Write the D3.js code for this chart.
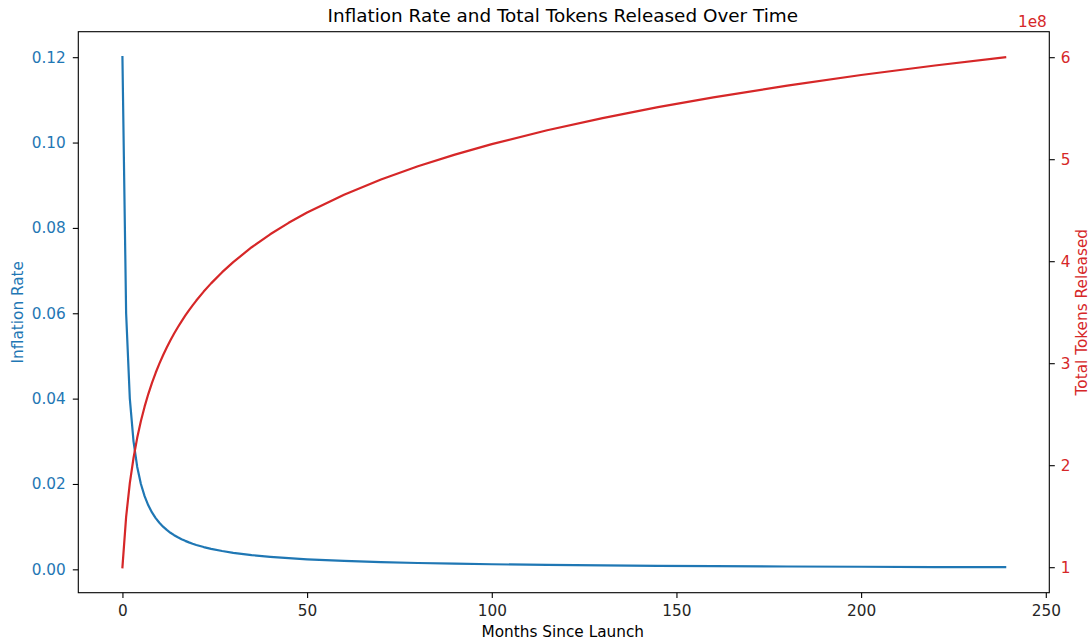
<!DOCTYPE html>
<html>
<head>
<meta charset="utf-8">
<script src="https://cdn.jsdelivr.net/npm/d3@7"></script>
<style>
  html, body { margin: 0; padding: 0; background: #fff; }
  svg { display: block; font-family: "DejaVu Sans", sans-serif; }
</style>
</head>
<body>
<svg id="chart" width="1092" height="643"></svg>
<script>
// Months since launch (sampled)
const months = [0,1,2,3,4,5,6,7,8,9,10,11,12,13,14,15,16,17,18,19,20,22,24,27,30,35,40,45,50,60,70,80,90,100,115,130,145,160,180,200,220,239];
// Inflation rate (left axis)
const inflationRate = [0.12,0.06,0.04,0.03,0.024,0.02,0.01714,0.015,0.01333,0.012,0.01091,0.01,0.00923,0.00857,0.008,0.0075,0.00706,0.00667,0.00632,0.006,0.00571,0.00522,0.0048,0.00429,0.00387,0.00333,0.00293,0.00261,0.00235,0.00197,0.00169,0.00148,0.00132,0.00119,0.00103,0.00092,0.00082,0.00075,0.00066,0.0006,0.00054,0.0005];
// Total tokens released (right axis)
const totalTokens = [1.0e8,1.4941e8,1.8235e8,2.0705e8,2.2681e8,2.4328e8,2.5740e8,2.6975e8,2.8073e8,2.9061e8,2.9960e8,3.0783e8,3.1543e8,3.2249e8,3.2908e8,3.3525e8,3.4106e8,3.4655e8,3.5176e8,3.5670e8,3.6140e8,3.7019e8,3.7826e8,3.8925e8,3.9914e8,4.1370e8,4.2638e8,4.3762e8,4.4771e8,4.6525e8,4.8013e8,4.9307e8,5.0451e8,5.1476e8,5.2837e8,5.4034e8,5.5102e8,5.6065e8,5.7219e8,5.8252e8,5.9187e8,6.0e8];
// Tick values
const xTicks = [0,50,100,150,200,250];
const leftTicks = [0.00,0.02,0.04,0.06,0.08,0.10,0.12];
const rightTicks = [1e8,2e8,3e8,4e8,5e8,6e8];

const blue = "#1f77b4", red = "#d62728";
const L = 78.3, R = 1049.3, T = 31.7, B = 592.7;

const svg = d3.select("#chart");

function padDomain(ext) { const m = (ext[1]-ext[0])*0.05; return [ext[0]-m, ext[1]+m]; }
const x = d3.scaleLinear().domain(padDomain(d3.extent(months))).range([L, R]);
const yL = d3.scaleLinear().domain(padDomain(d3.extent(inflationRate))).range([B, T]);
const yR = d3.scaleLinear().domain(padDomain(d3.extent(totalTokens))).range([B, T]);

const fs = 15.3;

// Lines
svg.append("clipPath").attr("id","clip").append("rect")
  .attr("x", L).attr("y", T).attr("width", R-L).attr("height", B-T);
const lineL = d3.line().x((d,i)=>x(months[i])).y(d=>yL(d));
const lineR = d3.line().x((d,i)=>x(months[i])).y(d=>yR(d));
svg.append("path").datum(inflationRate).attr("d", lineL)
  .attr("fill","none").attr("stroke",blue).attr("stroke-width",2.2)
  .attr("stroke-linejoin","round").attr("stroke-linecap","square").attr("clip-path","url(#clip)");
svg.append("path").datum(totalTokens).attr("d", lineR)
  .attr("fill","none").attr("stroke",red).attr("stroke-width",2.2)
  .attr("stroke-linejoin","round").attr("stroke-linecap","square").attr("clip-path","url(#clip)");

// Axes
const gx = svg.append("g").attr("transform", `translate(0,${B})`)
  .call(d3.axisBottom(x).tickValues(xTicks).tickSize(5.3).tickPadding(7).tickFormat(d3.format("d")));
const gl = svg.append("g").attr("transform", `translate(${L},0)`)
  .call(d3.axisLeft(yL).tickValues(leftTicks).tickSize(5.5).tickPadding(7).tickFormat(d3.format(".2f")));
const gr = svg.append("g").attr("transform", `translate(${R},0)`)
  .call(d3.axisRight(yR).tickValues(rightTicks).tickSize(5.5).tickPadding(6).tickFormat(d=>d3.format("d")(d/1e8)));

[gx, gl, gr].forEach(g => {
  g.select(".domain").remove();
  g.selectAll("line").attr("stroke","#000").attr("stroke-width",1.1);
  g.selectAll("text").attr("font-size", fs).attr("font-family","DejaVu Sans, sans-serif");
});
gx.selectAll("text").attr("fill","#262626");
gl.selectAll("text").attr("fill", blue);
gr.selectAll("text").attr("fill", red);

// Frame
svg.append("rect").attr("x",L).attr("y",T).attr("width",R-L).attr("height",B-T)
  .attr("fill","none").attr("stroke","#000").attr("stroke-width",1.1);

// Titles / labels
svg.append("text").attr("x",(L+R)/2 - 1).attr("y",21.7).attr("text-anchor","middle")
  .attr("font-size",18.4).attr("fill","#000").text("Inflation Rate and Total Tokens Released Over Time");
svg.append("text").attr("x",(L+R)/2 - 1).attr("y",636.5).attr("text-anchor","middle")
  .attr("font-size",fs).attr("fill","#000").text("Months Since Launch");
svg.append("text").attr("transform",`translate(22.7,${(T+B)/2}) rotate(-90)`).attr("text-anchor","middle")
  .attr("font-size",fs).attr("fill",blue).text("Inflation Rate");
svg.append("text").attr("transform",`translate(1086.7,${(T+B)/2}) rotate(-90)`).attr("text-anchor","middle")
  .attr("font-size",fs).attr("fill",red).text("Total Tokens Released");
svg.append("text").attr("x",R - 2.5).attr("y",26.7).attr("text-anchor","end")
  .attr("font-size",fs).attr("fill",red).text("1e8");
</script>
</body>
</html>
